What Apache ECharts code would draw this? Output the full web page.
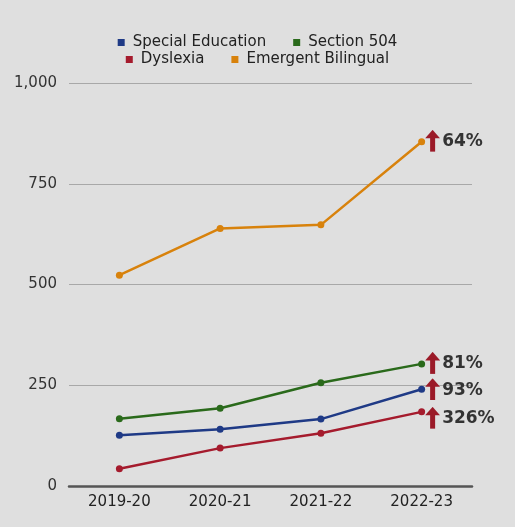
<!DOCTYPE html>
<html><head><meta charset="utf-8">
<script src="https://cdn.jsdelivr.net/npm/echarts@6/dist/echarts.min.js"></script>
<style>html,body{margin:0;padding:0;background:#dfdfdf;}#c{width:515px;height:527px;}</style>
</head><body><div id="c"></div>
<script>
const categories = ['2019-20','2020-21','2021-22','2022-23'];
const specialEducation = [126, 141, 166, 240];
const section504 = [167, 193, 256, 303];
const dyslexia = [43, 94, 131, 184];
const emergentBilingual = [523, 639, 648, 854];
const changeLabels = {'Special Education':'93%','Section 504':'81%','Dyslexia':'326%','Emergent Bilingual':'64%'};
const yTicks = [0, 250, 500, 750, 1000];

const font = 'DejaVu Sans';
const colors = {'Special Education':'#1f3a86','Section 504':'#2a6a1b','Dyslexia':'#a51b2d','Emergent Bilingual':'#d8820c'};
const labelOffset = {'Special Education':[0,0],'Section 504':[0,-1],'Dyslexia':[0,6],'Emergent Bilingual':[0,-1]};
const arrowSvg = 'data:image/svg+xml;utf8,' + encodeURIComponent(
  '<svg xmlns="http://www.w3.org/2000/svg" width="15" height="22" viewBox="0 0 15 22">' +
  '<polygon points="0,8.5 7.5,0 15,8.5" fill="#9b1a28"/>' +
  '<rect x="5" y="7" width="5" height="15" fill="#9b1a28"/></svg>');

function mk(name, vals){
  return {
    name, type:'line', data: vals.map((v,i)=> i===vals.length-1 ? {
      value:v,
      label:{show:true, position:'right', distance:0, offset:labelOffset[name],
        formatter:'{a| }{b|'+changeLabels[name]+'}',
        rich:{a:{width:15, height:22, backgroundColor:{image:arrowSvg}, verticalAlign:'middle'},
              b:{color:'#333', fontSize:17, fontWeight:'bold', fontFamily:'DejaVu Sans', padding:[2,0,0,2]}}}
    } : v),
    symbol:'circle', symbolSize:7, color:colors[name],
    lineStyle:{width:2.5, color:colors[name]}, itemStyle:{color:colors[name]},
    emphasis:{disabled:true}
  };
}
const chart = echarts.init(document.getElementById('c'));
const legendCommon = {icon:'rect', itemWidth:7, itemHeight:7, itemGap:27, textStyle:{fontFamily:font, fontSize:15, color:'#222', padding:[0,0,0,3]}, left:'center'};
chart.setOption({
  backgroundColor:'#dfdfdf',
  animation:false,
  legend:[
    Object.assign({top:30, data:['Special Education','Section 504']}, legendCommon),
    Object.assign({top:47, data:['Dyslexia','Emergent Bilingual']}, legendCommon)
  ],
  grid:{left:69, right:43, top:83, bottom:41},
  xAxis:{type:'category', data:categories, boundaryGap:true,
    axisTick:{show:false}, axisLine:{lineStyle:{color:'#555', width:2.5}},
    axisLabel:{fontFamily:font, fontSize:15, color:'#222', margin:9}},
  yAxis:{type:'value', min:yTicks[0], max:yTicks[yTicks.length-1], interval:250,
    axisLabel:{fontFamily:font, fontSize:15, color:'#333', margin:12, formatter:v=>v.toLocaleString('en-US')},
    splitLine:{lineStyle:{color:'#a8a8a8', width:1}}},
  series:[
    mk('Special Education', specialEducation),
    mk('Section 504', section504),
    mk('Dyslexia', dyslexia),
    mk('Emergent Bilingual', emergentBilingual)
  ]
});
</script></body></html>
